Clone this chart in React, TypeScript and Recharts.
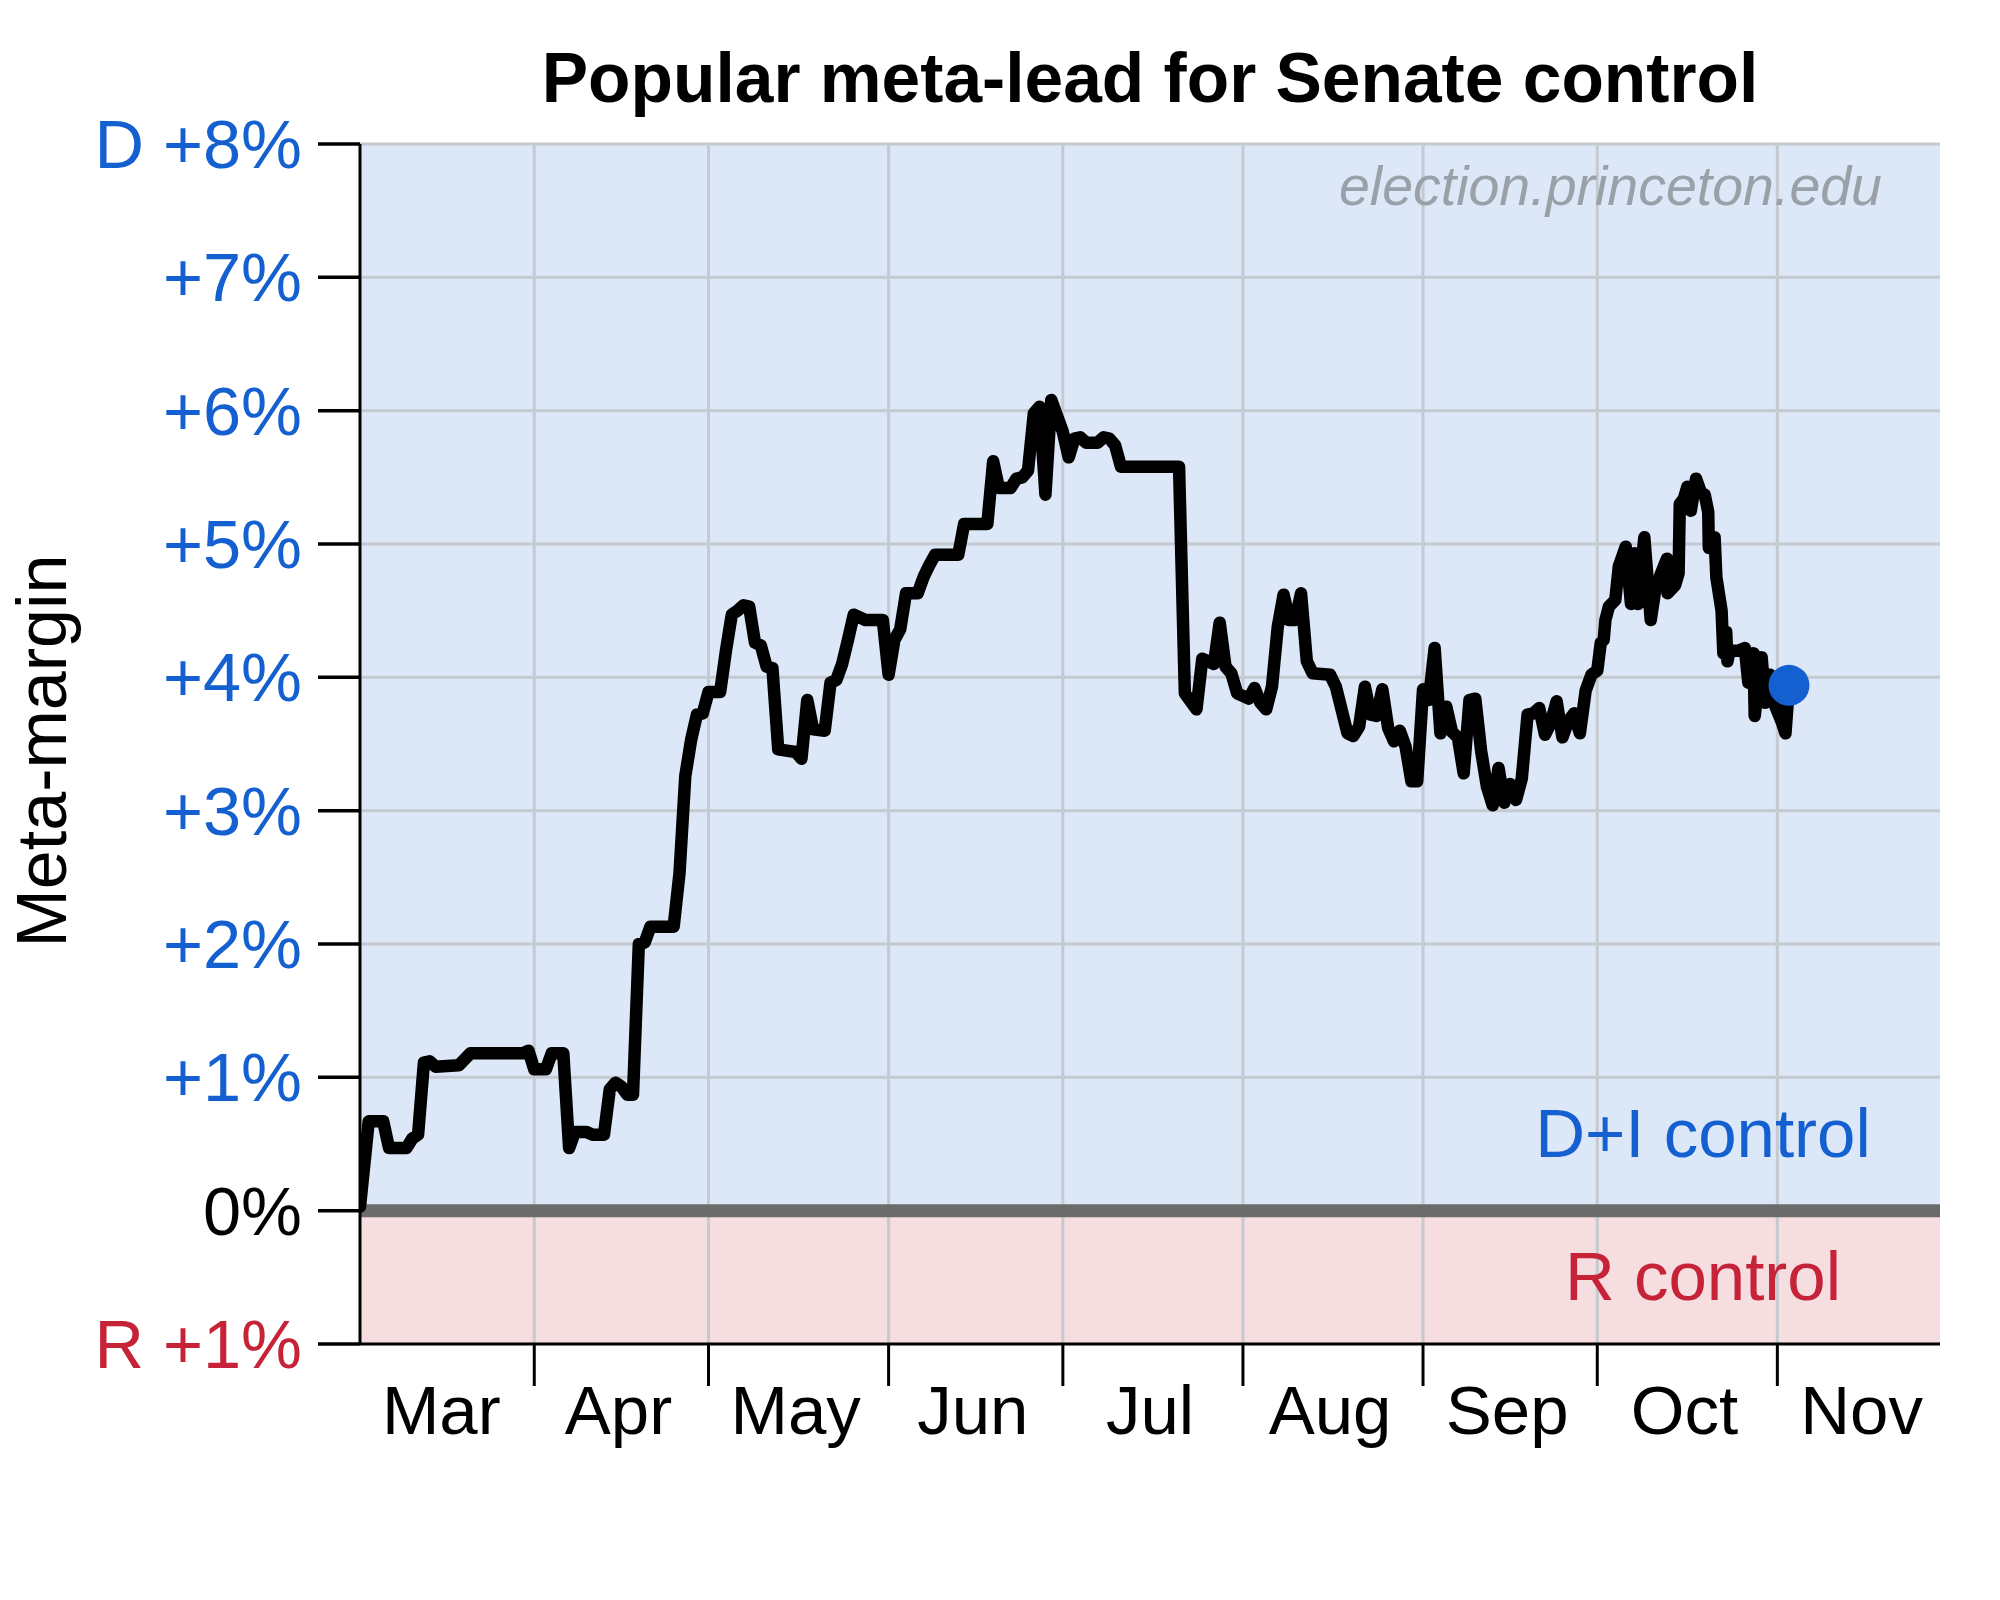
import React from 'react';
import { LineChart, Line, XAxis, YAxis, ReferenceArea, ReferenceLine, ReferenceDot } from 'recharts';

// Day index = days since March 1 (Mar 1 = 0); meta-margin in % (D positive)
const days = [
  1, 2.5, 5, 6, 9, 10, 11, 12, 13, 14, 18, 20, 29, 30, 31, 33, 34, 36, 37, 38,
  40, 41, 43, 44, 45, 46, 47, 48, 49, 50, 51, 55, 56, 57, 58, 59, 60, 61, 63, 64,
  65, 66, 67, 68, 69, 70, 71, 72, 73, 76, 77, 78, 79, 81, 82, 83, 84, 85, 86, 88,
  91, 92, 93, 94, 95, 97, 98, 99, 100, 104, 105, 109, 110, 111, 113, 114, 115, 116, 117, 118,
  119, 120, 122, 123, 124, 125, 126, 128, 129, 130, 131, 132, 142, 143, 145, 146, 148, 149, 150, 151,
  152, 154, 155, 156, 157, 158, 159, 160, 161, 162, 163, 164, 165, 168, 169, 171, 172, 173, 174, 175,
  176, 177, 178, 179, 180, 181, 182, 183, 184, 185, 186, 187, 188, 189, 190, 191, 192, 193, 194, 195,
  196, 197, 198, 199, 200, 201, 202, 203, 204, 205, 206, 207, 208, 209, 210, 211, 212, 213, 214, 214.6,
  215.1, 215.4, 216, 217.1, 217.7, 218.9, 219.8, 220.4, 221, 222.1, 223.2, 224, 224.9, 226, 226.1, 227.4, 228, 228.2, 228.9, 229.5,
  230.1, 231, 231.9, 232.5, 233.1, 233.2, 234.2, 234.5, 235.4, 235.7, 236.2, 236.4, 236.8, 238.3, 239.4, 240, 240.9, 241.1, 242.3, 242.9,
  243.7, 244.6, 245.8, 246.4, 247,
];
const metaMargin = [
  0.03, 0.67, 0.67, 0.47, 0.47, 0.54, 0.57, 1.11, 1.12, 1.08, 1.09, 1.18, 1.18, 1.2, 1.06, 1.06, 1.18, 1.18, 0.47, 0.59,
  0.59, 0.57, 0.57, 0.91, 0.96, 0.93, 0.87, 0.87, 2.0, 2.01, 2.13, 2.13, 2.53, 3.26, 3.53, 3.72, 3.73, 3.89, 3.89, 4.2,
  4.47, 4.5, 4.54, 4.53, 4.26, 4.24, 4.08, 4.07, 3.46, 3.44, 3.39, 3.83, 3.61, 3.6, 3.96, 3.98, 4.1, 4.28, 4.47, 4.43,
  4.43, 4.02, 4.28, 4.36, 4.63, 4.63, 4.75, 4.84, 4.92, 4.92, 5.15, 5.15, 5.62, 5.42, 5.42, 5.49, 5.5, 5.55, 5.98, 6.03,
  5.37, 6.08, 5.84, 5.65, 5.79, 5.8, 5.76, 5.76, 5.8, 5.79, 5.74, 5.58, 5.58, 3.88, 3.76, 4.14, 4.1, 4.41, 4.08, 4.03,
  3.88, 3.84, 3.92, 3.81, 3.76, 3.93, 4.38, 4.62, 4.43, 4.43, 4.63, 4.12, 4.03, 4.02, 3.93, 3.58, 3.56, 3.63, 3.93, 3.72,
  3.71, 3.91, 3.62, 3.52, 3.6, 3.48, 3.22, 3.22, 3.91, 3.83, 4.22, 3.58, 3.78, 3.59, 3.55, 3.28, 3.83, 3.84, 3.45, 3.18,
  3.04, 3.32, 3.06, 3.2, 3.08, 3.24, 3.72, 3.73, 3.77, 3.57, 3.66, 3.82, 3.55, 3.67, 3.73, 3.58, 3.9, 4.02, 4.05, 4.26,
  4.28, 4.43, 4.53, 4.58, 4.83, 4.98, 4.55, 4.93, 4.55, 5.05, 4.43, 4.66, 4.77, 4.89, 4.63, 4.69, 4.78, 5.3, 5.34, 5.43,
  5.25, 5.49, 5.38, 5.37, 5.24, 4.97, 5.05, 4.75, 4.5, 4.18, 4.34, 4.12, 4.2, 4.2, 4.22, 3.96, 4.18, 3.71, 4.15, 3.81,
  4.02, 3.79, 3.66, 3.58, 3.94,
];

const monthNames = ['Mar', 'Apr', 'May', 'Jun', 'Jul', 'Aug', 'Sep', 'Oct', 'Nov'];
const monthStarts = [0, 31, 61, 92, 122, 153, 184, 214, 245];
const monthLengths = [31, 30, 31, 30, 31, 31, 30, 31, 30];
const yTickValues = [-1, 0, 1, 2, 3, 4, 5, 6, 7, 8];
const yTickLabels = ['R +1%', '0%', '+1%', '+2%', '+3%', '+4%', '+5%', '+6%', '+7%', 'D +8%'];
const xDomain: [number, number] = [1, 273];
const yDomain: [number, number] = [-1, 8];

const BLUE = '#1560d0';
const RED = '#c62238';
const GRID = '#c5c9d0';
const FONT = '"Liberation Sans", Arial, Helvetica, sans-serif';

const rows = days.map((d, i) => ({ d, v: metaMargin[i] }));
const boundaryTicks = monthStarts.filter((d) => d > xDomain[0] && d < xDomain[1]);
const midTicks = monthStarts.map((s, i) => s + monthLengths[i] / 2 - 0.5);
const xTicks = [...boundaryTicks, ...midTicks].sort((a, b) => a - b);

function XTick(props: any) {
  const { x, y, payload } = props;
  const v = payload.value;
  if (boundaryTicks.indexOf(v) >= 0) {
    return <line x1={x} x2={x} y1={y} y2={y + 42} stroke="#000" strokeWidth={3} />;
  }
  const mi = midTicks.indexOf(v);
  return (
    <text x={x} y={y + 90} textAnchor="middle" fontFamily={FONT} fontSize={69} fill="#000">
      {monthNames[mi]}
    </text>
  );
}

function YTick(props: any) {
  const { x, y, payload } = props;
  const v = payload.value;
  const i = yTickValues.indexOf(v);
  const color = v > 0 ? BLUE : v < 0 ? RED : '#000';
  return (
    <text x={x} y={y + 24} textAnchor="end" fontFamily={FONT} fontSize={68.5} fill={color}>
      {yTickLabels[i]}
    </text>
  );
}

export default function App() {
  const lastIdx = days.length - 1;
  return (
    <div style={{ position: 'absolute', left: 0, top: 0, width: 2000, height: 1600, background: '#fff' }}>
      <LineChart
        width={2000}
        height={1600}
        data={rows}
        margin={{ top: 144, right: 60, bottom: 136, left: 0 }}
      >
        <XAxis
          dataKey="d"
          type="number"
          domain={xDomain}
          ticks={xTicks}
          interval={0}
          height={120}
          tickSize={0}
          tickMargin={0}
          tickLine={false}
          axisLine={{ stroke: '#000', strokeWidth: 3 }}
          tick={<XTick />}
          allowDataOverflow
        />
        <YAxis
          type="number"
          domain={yDomain}
          ticks={yTickValues}
          interval={0}
          width={360}
          tickSize={42}
          tickMargin={16}
          tickLine={{ stroke: '#000', strokeWidth: 3.5 }}
          axisLine={{ stroke: '#000', strokeWidth: 3 }}
          tick={<YTick />}
          allowDataOverflow
        />
        <ReferenceArea x1={xDomain[0]} x2={xDomain[1]} y1={0} y2={yDomain[1]} fill="#dce7f7" fillOpacity={1} stroke="none" />
        <ReferenceArea x1={xDomain[0]} x2={xDomain[1]} y1={yDomain[0]} y2={0} fill="#f5dde0" fillOpacity={1} stroke="none" />
        {yTickValues
          .filter((v) => v > 0)
          .map((v) => (
            <ReferenceLine key={'h' + v} y={v} stroke={GRID} strokeWidth={3} />
          ))}
        {boundaryTicks.map((d) => (
          <ReferenceLine key={'v' + d} x={d} stroke={GRID} strokeWidth={3} />
        ))}
        <ReferenceLine y={0} stroke="#6b6b6b" strokeWidth={13} />
        <Line
          dataKey="v"
          type="linear"
          stroke="#000"
          strokeWidth={12.5}
          strokeLinejoin="round"
          strokeLinecap="round"
          dot={false}
          activeDot={false}
          isAnimationActive={false}
        />
        <ReferenceDot x={days[lastIdx]} y={metaMargin[lastIdx]} r={20.5} fill={BLUE} stroke="none" />
      </LineChart>
      <svg
        width={2000}
        height={1600}
        style={{ position: 'absolute', left: 0, top: 0, pointerEvents: 'none' }}
        fontFamily={FONT}
      >
        <text x={1150} y={102} textAnchor="middle" fontWeight="bold" fontSize={69.5} fill="#000">
          Popular meta-lead for Senate control
        </text>
        <text x={1882} y={205} textAnchor="end" fontStyle="italic" fontSize={55.5} fill="#9aa0a8">
          election.princeton.edu
        </text>
        <text x={66} y={751} transform="rotate(-90 66 751)" textAnchor="middle" fontSize={70} fill="#000">
          Meta-margin
        </text>
        <text x={1703} y={1157} textAnchor="middle" fontSize={69} fill={BLUE}>
          D+I control
        </text>
        <text x={1703} y={1300} textAnchor="middle" fontSize={69} fill={RED}>
          R control
        </text>
      </svg>
    </div>
  );
}
